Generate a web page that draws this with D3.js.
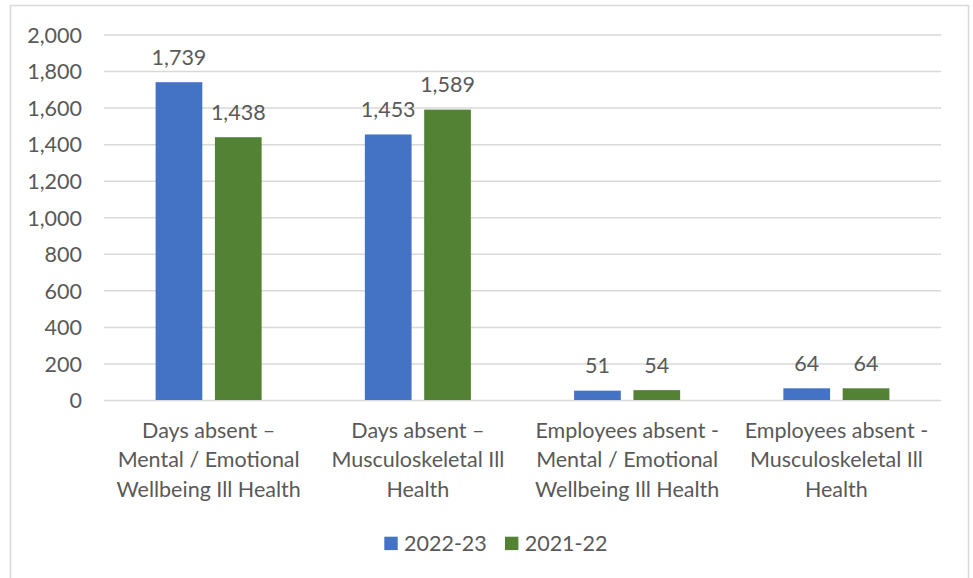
<!DOCTYPE html>
<html>
<head>
<meta charset="utf-8">
<script src="https://cdn.jsdelivr.net/npm/d3@7"></script>
<style>
  html, body { margin: 0; padding: 0; background: #fff; }
  svg { display: block; font-family: Lato, "Open Sans", sans-serif; }
</style>
</head>
<body>
<svg id="chart" width="973" height="578"></svg>
<script>
// Absence due to ill health, by category and reporting year
const categories = [
  "Days absent – Mental / Emotional Wellbeing Ill Health",
  "Days absent – Musculoskeletal Ill Health",
  "Employees absent - Mental / Emotional Wellbeing Ill Health",
  "Employees absent - Musculoskeletal Ill Health"
];
const categoryLines = [
  ["Days absent –", "Mental / Emotional", "Wellbeing Ill Health"],
  ["Days absent –", "Musculoskeletal Ill", "Health"],
  ["Employees absent -", "Mental / Emotional", "Wellbeing Ill Health"],
  ["Employees absent -", "Musculoskeletal Ill", "Health"]
];
const seriesNames = ["2022-23", "2021-22"];
const values2022_23 = [1739, 1453, 51, 64];
const values2021_22 = [1438, 1589, 54, 64];
const yTicks = [0, 200, 400, 600, 800, 1000, 1200, 1400, 1600, 1800, 2000];
const colors = ["#4472C4", "#548235"];

const seriesValues = [values2022_23, values2021_22];
const rows = categories.map((c, i) => ({
  category: c,
  values: seriesNames.map((s, j) => ({ series: s, value: seriesValues[j][i] }))
}));

const svg = d3.select("#chart");
const textColor = "#595959";
const gridColor = "#D9D9D9";

// outer frame
svg.append("rect")
  .attr("x", 10.5).attr("y", 5.5)
  .attr("width", 958).attr("height", 600)
  .attr("fill", "none").attr("stroke", gridColor).attr("stroke-width", 1.5);

const plot = { left: 104, right: 941, top: 34.5, bottom: 400 };

const y = d3.scaleLinear().domain([0, 2000]).range([plot.bottom, plot.top]);
const x0 = d3.scaleBand().domain(categories).range([plot.left, plot.right]).padding(0);
const x1 = d3.scaleBand().domain(seriesNames).range([0, x0.bandwidth()])
  .paddingInner(0.2125).paddingOuter(0.87);
const color = d3.scaleOrdinal().domain(seriesNames).range(colors);

// gridlines
const yAxis = d3.axisLeft(y).tickValues(yTicks).tickSize(-(plot.right - plot.left))
  .tickFormat(d3.format(","));
const gy = svg.append("g").attr("transform", `translate(${plot.left},0)`).call(yAxis);
gy.select(".domain").remove();
gy.selectAll(".tick line").attr("stroke", gridColor).attr("stroke-width", 1.5);
gy.selectAll(".tick text")
  .attr("x", -22).attr("dy", "0.36em")
  .attr("fill", textColor).attr("font-size", 21.5)
  .attr("font-family", "Lato, 'Open Sans', sans-serif");

// bars
const groups = svg.append("g").selectAll("g").data(rows).join("g")
  .attr("transform", d => `translate(${x0(d.category)},0)`);

groups.selectAll("rect").data(d => d.values).join("rect")
  .attr("x", d => x1(d.series))
  .attr("width", x1.bandwidth())
  .attr("y", d => y(d.value))
  .attr("height", d => y(0) - y(d.value))
  .attr("fill", d => color(d.series));

// value labels
groups.selectAll("text.value").data(d => d.values).join("text")
  .attr("class", "value")
  .attr("x", d => x1(d.series) + x1.bandwidth() / 2)
  .attr("y", d => y(d.value) - 17.5)
  .attr("text-anchor", "middle")
  .attr("fill", textColor).attr("font-size", 21.5)
  .text(d => d3.format(",")(d.value));

// category labels
const catLabels = svg.append("g").selectAll("text").data(categories).join("text")
  .attr("text-anchor", "middle")
  .attr("fill", textColor).attr("font-size", 21.5)
  .attr("transform", d => `translate(${x0(d) + x0.bandwidth() / 2},438)`);
catLabels.selectAll("tspan").data((d, i) => categoryLines[i]).join("tspan")
  .attr("x", 0).attr("y", (d, i) => i * 29.3)
  .text(d => d);

// legend
const legendItems = [
  { name: seriesNames[0], sx: 384.3, tx: 404 },
  { name: seriesNames[1], sx: 505, tx: 524.7 }
];
const legend = svg.append("g");
legend.selectAll("rect").data(legendItems).join("rect")
  .attr("x", d => d.sx).attr("y", 536.7).attr("width", 13.4).attr("height", 13.4)
  .attr("fill", d => color(d.name));
legend.selectAll("text").data(legendItems).join("text")
  .attr("x", d => d.tx).attr("y", 551)
  .attr("fill", textColor).attr("font-size", 21.5)
  .text(d => d.name);
</script>
</body>
</html>
